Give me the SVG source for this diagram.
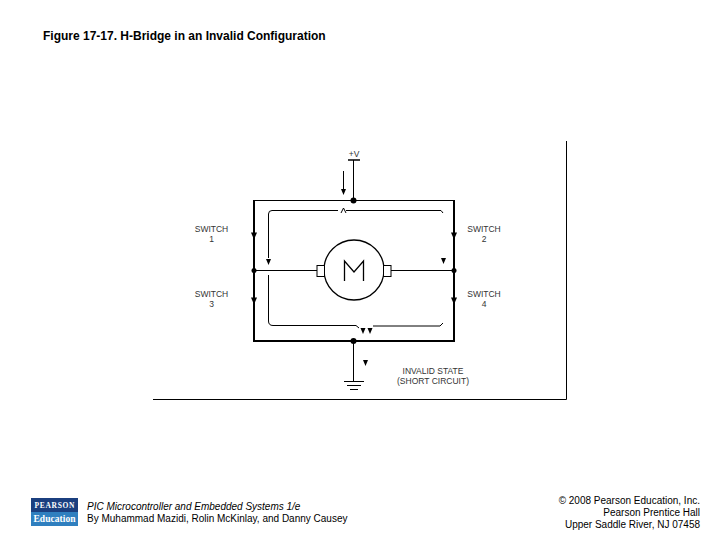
<svg xmlns="http://www.w3.org/2000/svg" width="720" height="540" viewBox="0 0 720 540">
<style>
text{font-family:"Liberation Sans",Arial,sans-serif;fill:#000}
.lbl{font-size:8.500px;fill:#333;text-anchor:middle}
.foot{font-size:10px}
.w{fill:none;stroke:#000;stroke-width:1}
.b{fill:none;stroke:#000;stroke-width:2}
.ah{fill:#000}
</style>
<defs>
<path id="tri" d="M-2.500 -3H2.500L0 3Z" class="ah"/>
<path id="big" d="M-3 -3.500H3L0 3.500Z" class="ah"/>
</defs>
<rect width="720" height="540" fill="#fff"/>
<text x="43" y="39.500" font-size="12" font-weight="bold" id="title">Figure 17-17. H-Bridge in an Invalid Configuration</text>
<g id="frame"><path class="w" d="M566.500 141V399.500H153"/></g>
<g id="connectors">
<path class="w" d="M353.500 160V200"/>
<path fill="none" stroke="#000" stroke-width="1.500" d="M348 160H360"/>
<path class="w" d="M254 200.500H454"/>
<path class="b" d="M254 200V342M454 200V342M253 341H455"/>
<path class="w" d="M254 270.500H317M391 270.500H454M353.500 341V381"/>
<path class="w" d="M338 210.500H272Q268.500 210.500 268.500 214V258"/>
<path class="w" d="M341 213L343.500 208L346 213M346 210.500H441L443 213"/>
<path class="w" d="M268.500 275V321Q268.500 325.500 273 325.500H356L359 328"/>
<path class="w" d="M373 326H440L443 323"/>
<path class="w" d="M343.500 171V191"/>
<use href="#tri" x="343.500" y="192"/>
<use href="#big" x="254" y="236"/>
<use href="#tri" x="268.500" y="262"/>
<use href="#big" x="454" y="236"/>
<use href="#tri" x="443.500" y="261"/>
<use href="#big" x="254" y="301"/>
<use href="#big" x="454" y="301"/>
<use href="#tri" x="363" y="331"/>
<use href="#tri" x="370" y="331"/>
<use href="#tri" x="365.500" y="363"/>
<circle cx="353.500" cy="200.500" r="3" class="ah"/>
<circle cx="353.500" cy="341" r="3" class="ah"/>
<circle cx="254" cy="270.500" r="2.500" class="ah"/>
<circle cx="454" cy="270.500" r="2.500" class="ah"/>
</g>
<g id="motor">
<circle cx="354" cy="270" r="30" fill="none" stroke="#000" stroke-width="1.300"/>
<rect x="317" y="265.500" width="7.500" height="11" fill="#fff" stroke="#000"/>
<rect x="383.500" y="265.500" width="7.500" height="11" fill="#fff" stroke="#000"/>
<path d="M344.500 281V261L354 272L363.500 261V281" fill="none" stroke="#000" stroke-width="1.300"/>
</g>
<g id="ground"><path class="w" d="M344 381.500H364M347 385.500H361M350 389.500H358"/></g>
<g id="supply"><text class="lbl" x="354" y="157">+V</text></g>
<g id="switch1"><text class="lbl" x="211.500" y="232">SWITCH</text><text class="lbl" x="211.500" y="242">1</text></g>
<g id="switch2"><text class="lbl" x="484" y="232">SWITCH</text><text class="lbl" x="484" y="242">2</text></g>
<g id="switch3"><text class="lbl" x="211.500" y="297">SWITCH</text><text class="lbl" x="211.500" y="307">3</text></g>
<g id="switch4"><text class="lbl" x="484" y="297">SWITCH</text><text class="lbl" x="484" y="307">4</text></g>
<g id="state"><text class="lbl" x="433" y="374">INVALID STATE</text><text class="lbl" x="433" y="384">(SHORT CIRCUIT)</text></g>
<g id="logo">
<rect x="31" y="498" width="47" height="14" fill="#1b3f7f"/>
<rect x="31" y="512" width="47" height="14" fill="#2f7fbf"/>
<text x="54.500" y="508" font-size="7.500" font-weight="bold" text-anchor="middle" style="fill:#fff;font-family:'Liberation Serif',serif" textLength="40">PEARSON</text>
<text x="54.500" y="522" font-size="9.500" font-weight="bold" text-anchor="middle" style="fill:#fff;font-family:'Liberation Serif',serif" textLength="42">Education</text>
</g>
<g id="footer">
<text class="foot" x="87" y="510" font-style="italic">PIC Microcontroller and Embedded Systems 1/e</text>
<text class="foot" x="87" y="522">By Muhammad Mazidi, Rolin McKinlay, and Danny Causey</text>
<text class="foot" x="700" y="504" text-anchor="end">© 2008 Pearson Education, Inc.</text>
<text class="foot" x="700" y="516" text-anchor="end">Pearson Prentice Hall</text>
<text class="foot" x="700" y="528" text-anchor="end">Upper Saddle River, NJ 07458</text>
</g>
</svg>
